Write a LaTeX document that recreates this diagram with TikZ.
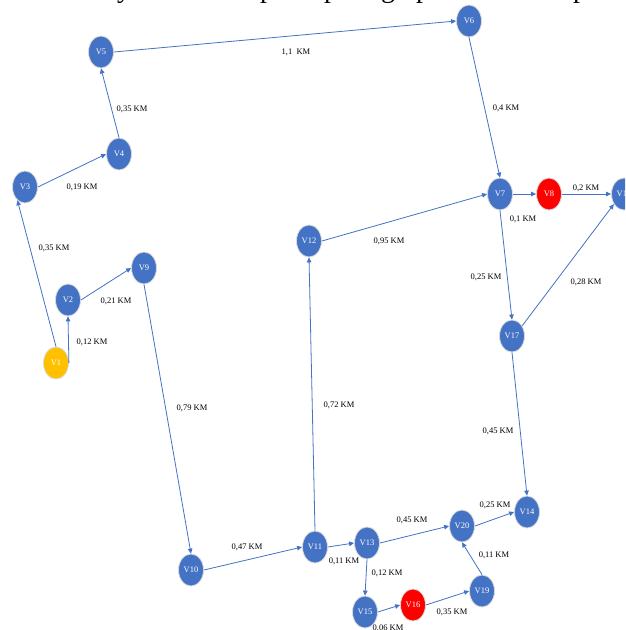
\documentclass[tikz,border=0pt]{standalone}
\usepackage{fontspec}
\setmainfont{Liberation Serif}
\usetikzlibrary{shapes.geometric,arrows.meta}
\definecolor{vblue}{HTML}{4472C4}
\definecolor{vred}{HTML}{FF0000}
\definecolor{vyellow}{HTML}{FFC000}
\definecolor{vring}{HTML}{D9D9D9}
\tikzset{
  vtx/.style={ellipse, minimum width=25pt, minimum height=32pt, inner sep=0pt,
    fill=vblue, draw=vring, line width=0.8pt, text=white,
    font=\fontsize{8.5}{10}\selectfont},
  redvtx/.style={vtx, fill=vred},
  yelvtx/.style={vtx, fill=vyellow},
  edge/.style={draw=vblue, line width=0.8pt, -{Triangle[length=5pt,width=4.5pt]}},
  dist/.style={inner sep=0pt, font=\fontsize{8.5}{10}\selectfont},
  ttl/.style={anchor=base, inner sep=0pt, font=\fontsize{28}{30}\selectfont}
}
\begin{document}
\begin{tikzpicture}[x=1pt, y=-1pt]
\useasboundingbox (0,0) rectangle (625,630);
\fill[white] (0,0) rectangle (625,630);
\clip (0,0) rectangle (625,630);
% clipped title fragments
\node[ttl] (t1) at (124,-3) {y};
\node[ttl] (t2) at (267,-3) {p};
\node[ttl] (t3) at (331,-3) {p};
\node[ttl] (t4) at (388,-3) {g};
\node[ttl] (t5) at (423,-3) {p};
\node[ttl] (t6) at (580,-3) {p};
% vertices
\node[yelvtx] (V1) at (56,363) {V1};
\node[vtx] (V2) at (68,300) {V2};
\node[vtx] (V3) at (25,187) {V3};
\node[vtx] (V4) at (119,154) {V4};
\node[vtx] (V5) at (101,52) {V5};
\node[vtx] (V6) at (469,21) {V6};
\node[vtx] (V7) at (500,194) {V7};
\node[redvtx] (V8) at (549,194) {V8};
\node[vtx] (V18) at (624,194) {V18};
\node[vtx] (V9) at (144,268) {V9};
\node[vtx] (V10) at (191,570) {V10};
\node[vtx] (V11) at (315,547) {V11};
\node[vtx] (V12) at (309,241) {V12};
\node[vtx] (V13) at (367,543) {V13};
\node[vtx] (V14) at (527,512) {V14};
\node[vtx] (V15) at (365,612) {V15};
\node[redvtx] (V16) at (413,605) {V16};
\node[vtx] (V17) at (512,336) {V17};
\node[vtx] (V19) at (482,591) {V19};
\node[vtx] (V20) at (462,526) {V20};
% connectors
\draw[edge] (V1.north) -- (V3.240);
\draw[edge] (V1.east) -- (V2.south);
\draw[edge] (V2.east) -- (V9.west);
\draw[edge] (V3.east) -- (V4.west);
\draw[edge] (V4.north) -- (V5.south);
\draw[edge] (V5.east) -- (V6.west);
\draw[edge] (V6.south) -- (V7.north);
\draw[edge] (V7.east) -- (V8.west);
\draw[edge] (V8.east) -- (V18.west);
\draw[edge] (V12.east) -- (V7.west);
\draw[edge] (V7.south) -- (V17.north);
\draw[edge] (V17.45) -- (V18.225);
\draw[edge] (V17.south) -- (V14.north);
\draw[edge] (V9.south) -- (V10.north);
\draw[edge] (V10.east) -- (V11.west);
\draw[edge] (V11.north) -- (V12.south);
\draw[edge] (V11.east) -- (V13.west);
\draw[edge] (V13.east) -- (V20.west);
\draw[edge] (V13.south) -- (V15.north);
\draw[edge] (V15.east) -- (V16.west);
\draw[edge] (V16.east) -- (V19.west);
\draw[edge] (V19.north) -- (V20.south);
\draw[edge] (V20.east) -- (V14.west);
% distance labels
\node[dist] (d1) at (296,52) {1,1\ \ KM};
\node[dist] (d2) at (506,108) {0,4 KM};
\node[dist] (d3) at (132,109) {0,35 KM};
\node[dist] (d4) at (82,187) {0,19 KM};
\node[dist] (d5) at (54,248) {0,35 KM};
\node[dist] (d6) at (116,301) {0,21 KM};
\node[dist] (d7) at (92,342) {0,12 KM};
\node[dist] (d8) at (586,188) {0,2 KM};
\node[dist] (d9) at (523,219) {0,1 KM};
\node[dist] (d10) at (389,241) {0,95 KM};
\node[dist] (d11) at (486,277) {0,25 KM};
\node[dist] (d12) at (586,282) {0,28 KM};
\node[dist] (d13) at (192,408) {0,79 KM};
\node[dist] (d14) at (339,405) {0,72 KM};
\node[dist] (d15) at (498,431) {0,45 KM};
\node[dist] (d16) at (495,505) {0,25 KM};
\node[dist] (d17) at (412,520) {0,45 KM};
\node[dist] (d18) at (344,561) {0,11 KM};
\node[dist] (d19) at (387,573) {0,12 KM};
\node[dist] (d20) at (494,555) {0,11 KM};
\node[dist] (d21) at (247,547) {0,47 KM};
\node[dist] (d22) at (452,612) {0,35 KM};
\node[dist] (d23) at (388,628) {0,06 KM};
\end{tikzpicture}
\end{document}
